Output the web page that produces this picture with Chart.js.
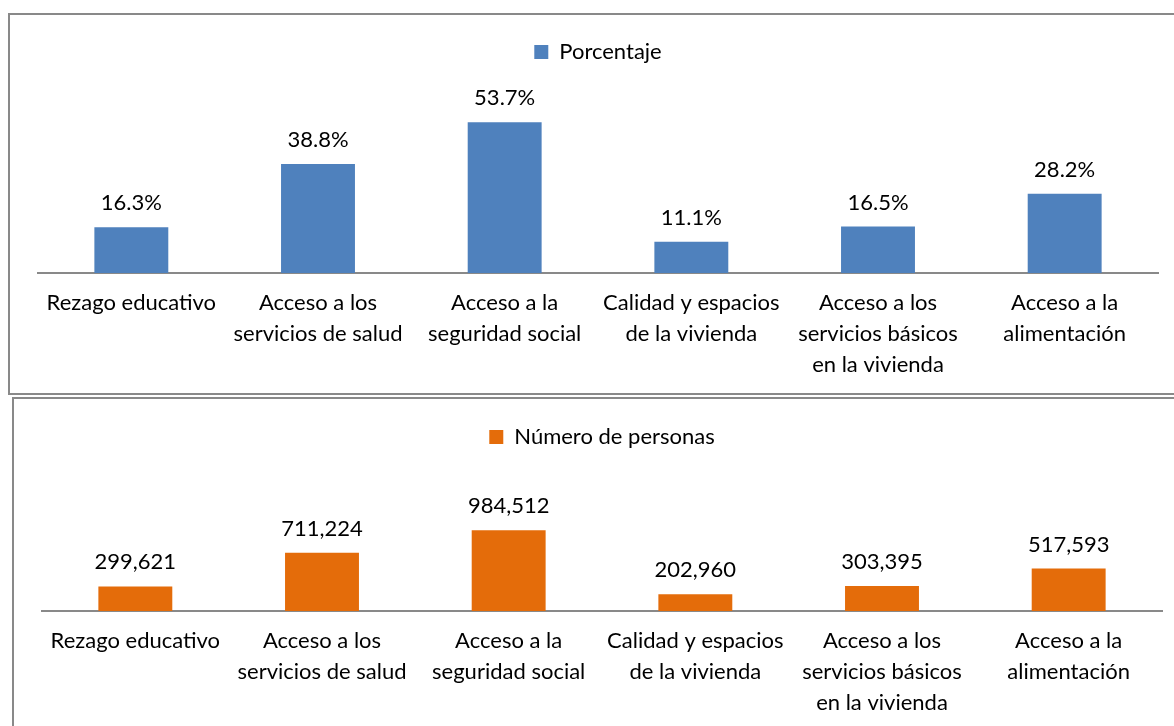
<!DOCTYPE html>
<html>
<head>
<meta charset="utf-8">
<script src="https://cdn.jsdelivr.net/npm/chart.js@4/dist/chart.umd.min.js"></script>
<style>
  body { margin: 0; background: #fff; width: 1174px; height: 726px; overflow: hidden; position: relative; }
  .box { position: absolute; border: 2px solid #898989; box-sizing: border-box; }
  #box1 { left: 8px; top: 13px; width: 1180px; height: 382px; }
  #box2 { left: 12px; top: 397px; width: 1180px; height: 340px; }
  canvas { position: absolute; }
  #chart1 { left: 10px; top: 15px; }
  #chart2 { left: 14px; top: 399px; }
</style>
</head>
<body>
<div class="box" id="box1"></div>
<div class="box" id="box2"></div>
<canvas id="chart1" width="1164" height="385"></canvas>
<canvas id="chart2" width="1160" height="339"></canvas>
<script>
var categories = [
  'Rezago educativo',
  ['Acceso a los', 'servicios de salud'],
  ['Acceso a la', 'seguridad social'],
  ['Calidad y espacios', 'de la vivienda'],
  ['Acceso a los', 'servicios básicos', 'en la vivienda'],
  ['Acceso a la', 'alimentación']
];
var porcentaje = [16.3, 38.8, 53.7, 11.1, 16.5, 28.2];
var personas = [299621, 711224, 984512, 202960, 303395, 517593];

var fontFamily = 'Lato, "Open Sans", sans-serif';

// draws the value above each bar
var valueLabels = {
  id: 'valueLabels',
  afterDatasetsDraw: function(chart, args, opts) {
    var ctx = chart.ctx;
    var meta = chart.getDatasetMeta(0);
    ctx.save();
    ctx.font = '22px ' + fontFamily;
    ctx.fillStyle = '#000';
    ctx.textAlign = 'center';
    ctx.textBaseline = 'bottom';
    meta.data.forEach(function(bar, i) {
      var v = chart.data.datasets[0].data[i];
      ctx.fillText(opts.format(v), bar.x, bar.y - 13);
    });
    ctx.restore();
  }
};

function makeChart(id, label, values, color, yMax, pad, fmt) {
  return new Chart(document.getElementById(id), {
    type: 'bar',
    data: {
      labels: categories,
      datasets: [{
        label: label,
        data: values,
        backgroundColor: color,
        barPercentage: 0.8,
        categoryPercentage: 0.495
      }]
    },
    plugins: [valueLabels],
    options: {
      responsive: false,
      animation: false,
      layout: { padding: pad },
      plugins: {
        tooltip: { enabled: false },
        valueLabels: { format: fmt },
        legend: {
          display: true,
          position: 'top',
          labels: {
            boxWidth: 14,
            boxHeight: 14,
            padding: 10,
            color: '#000',
            font: { family: fontFamily, size: 22 }
          }
        }
      },
      scales: {
        x: {
          grid: { display: false, drawTicks: false },
          border: { display: true, color: '#898989', width: 2 },
          ticks: {
            color: '#000',
            maxRotation: 0,
            autoSkip: false,
            padding: 14,
            font: { family: fontFamily, size: 22, lineHeight: 1.41 }
          }
        },
        y: {
          display: false,
          min: 0,
          max: yMax
        }
      }
    }
  });
}

makeChart('chart1', 'Porcentaje', porcentaje, '#4F81BD', 71.2,
  { left: 28, right: 16, top: 16, bottom: 6 },
  function(v) { return v.toFixed(1) + '%'; });

makeChart('chart2', 'Número de personas', personas, '#E46C0A', 1866000,
  { left: 28, right: 12, top: 17, bottom: 6 },
  function(v) { return v.toLocaleString('en-US'); });
</script>
</body>
</html>
